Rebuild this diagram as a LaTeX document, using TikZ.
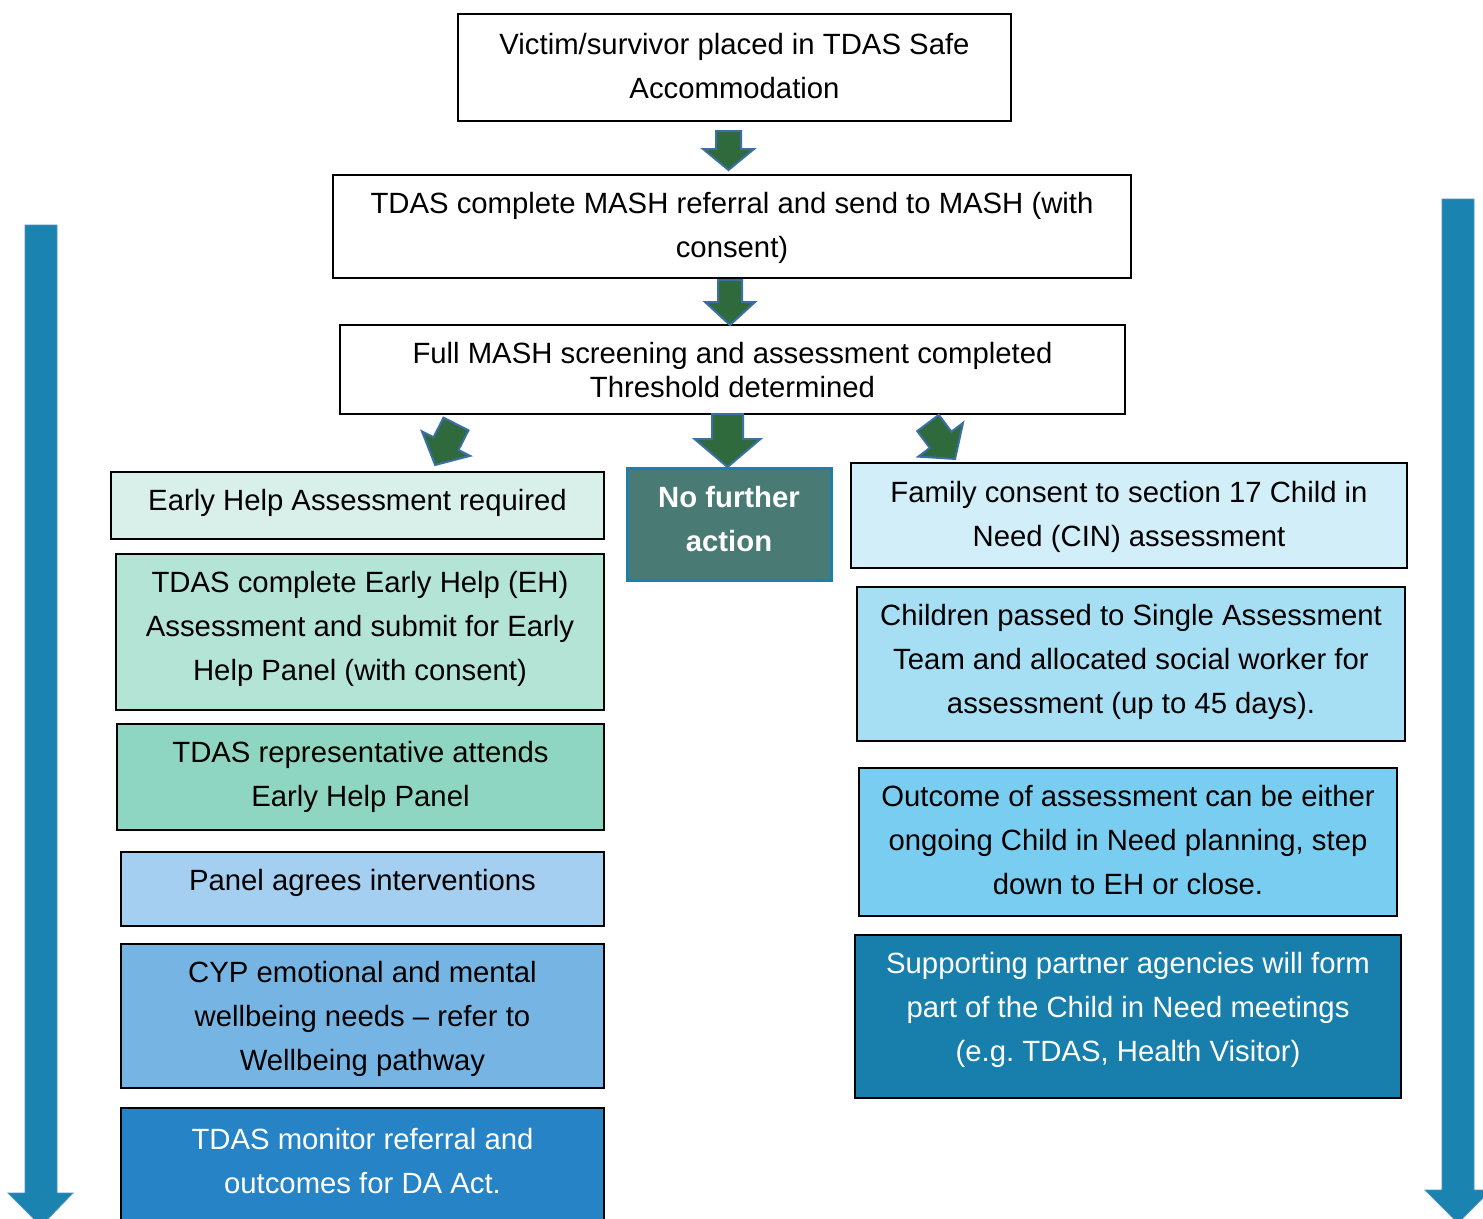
\documentclass[tikz,border=0pt]{standalone}
\usepackage{fontspec}
\setmainfont{Liberation Sans}
\frenchspacing
\definecolor{arrgreen}{HTML}{2E6A3C}
\definecolor{arrblue}{HTML}{3B6FA6}
\definecolor{sideblue}{HTML}{1A83AF}
\definecolor{sideedge}{HTML}{4F8FBF}
\definecolor{cA}{HTML}{D9F0EA}
\definecolor{cB}{HTML}{B4E4D5}
\definecolor{cC}{HTML}{8ED6C2}
\definecolor{cD}{HTML}{A4CFF0}
\definecolor{cE}{HTML}{76B5E3}
\definecolor{cF}{HTML}{2683C6}
\definecolor{cN}{HTML}{497A73}
\definecolor{cNb}{HTML}{1D80AC}
\definecolor{cR1}{HTML}{D2EEF8}
\definecolor{cR2}{HTML}{A6DEF3}
\definecolor{cR3}{HTML}{79CDF0}
\definecolor{cR4}{HTML}{187FAD}
\newcommand{\garr}[7]{%
  \draw[garrow, shift={(#1,#2)}, rotate=#3] (-#4,0) -- (#4,0) -- (#4,#6) -- (#5,#6) -- (0,#7) -- (-#5,#6) -- (-#4,#6) -- cycle;}
\begin{document}
\begin{tikzpicture}[x=1pt,y=-1pt,
  box/.style={rectangle, draw=black, line width=2pt, inner sep=0pt},
  txt/.style={align=center, inner sep=0pt, font=\fontsize{29.3}{44}\selectfont},
  garrow/.style={fill=arrgreen, draw=arrblue, line width=2pt, line join=miter},
  sidearrow/.style={fill=sideblue, draw=sideedge, line width=0.8pt}]
\useasboundingbox (0,0) rectangle (1483,1218);
\fill[white] (0,0) rectangle (1483,1218);

% side arrows
\draw[sidearrow] (25,225) -- (57,225) -- (57,1193) -- (73,1193) -- (41,1226) -- (8,1193) -- (25,1193) -- cycle;
\draw[sidearrow] (1442,199) -- (1474,199) -- (1474,1190) -- (1491,1190) -- (1458,1223) -- (1425,1190) -- (1442,1190) -- cycle;

% top boxes
\node[box, fill=white, minimum width=553, minimum height=107] (b1) at (734.5,67.5) {};
\node[txt] (b1t) at (734.5,66) {Victim/survivor placed in TDAS Safe\\Accommodation};
\node[box, fill=white, minimum width=798, minimum height=103] (b2) at (732,226.5) {};
\node[txt] (b2t) at (732,228) {TDAS complete MASH referral and send to MASH (with\\consent)};
\node[box, fill=white, minimum width=785, minimum height=89] (b3) at (732.5,369.5) {};
\node[txt, font=\fontsize{29.3}{34}\selectfont] (b3t) at (732.5,370.5) {Full MASH screening and assessment completed\\Threshold determined};

% left column
\node[box, fill=cA, minimum width=493, minimum height=67] (l1) at (357.5,505.5) {};
\node[txt] (l1t) at (357.5,503) {Early Help Assessment required};
\node[box, fill=cB, minimum width=488, minimum height=156] (l2) at (360,632) {};
\node[txt] (l2t) at (360,629) {TDAS complete Early Help (EH)\\Assessment and submit for Early\\Help Panel (with consent)};
\node[box, fill=cC, minimum width=487, minimum height=106] (l3) at (360.5,777) {};
\node[txt] (l3t) at (360.5,777) {TDAS representative attends\\Early Help Panel};
\node[box, fill=cD, minimum width=483, minimum height=74] (l4) at (362.5,889) {};
\node[txt] (l4t) at (362.5,883) {Panel agrees interventions};
\node[box, fill=cE, minimum width=483, minimum height=144] (l5) at (362.5,1016) {};
\node[txt] (l5t) at (362.5,1019) {CYP emotional and mental\\wellbeing needs – refer to\\Wellbeing pathway};
\node[box, fill=cF, minimum width=483, minimum height=130] (l6) at (362.5,1173) {};
\node[txt, text=white] (l6t) at (362.5,1161) {TDAS monitor referral and\\outcomes for DA Act.};

% middle
\node[box, fill=cN, draw=cNb, line width=3pt, minimum width=204, minimum height=112] (nfa) at (729,524) {};
\node[txt, text=white, font=\fontsize{29.3}{44}\selectfont\bfseries] (nfat) at (729,519) {No further\\action};

% right column
\node[box, fill=cR1, minimum width=556, minimum height=105] (r1) at (1129,515.5) {};
\node[txt] (r1t) at (1129,517) {Family consent to section 17 Child in\\Need (CIN) assessment};
\node[box, fill=cR2, minimum width=548, minimum height=154] (r2) at (1131,664) {};
\node[txt] (r2t) at (1131,662) {Children passed to Single Assessment\\Team and allocated social worker for\\assessment (up to 45 days).};
\node[box, fill=cR3, minimum width=538, minimum height=148] (r3) at (1128,842) {};
\node[txt] (r3t) at (1128,840) {Outcome of assessment can be either\\ongoing Child in Need planning, step\\down to EH or close.};
\node[box, fill=cR4, minimum width=546, minimum height=163] (r4) at (1128,1016.5) {};
\node[txt, text=white] (r4t) at (1128,1010) {Supporting partner agencies will form\\part of the Child in Need meetings\\(e.g. TDAS, Health Visitor)};

% green block arrows
\garr{728.5}{131}{0}{12.5}{25.5}{18}{39}
\garr{730}{280}{0}{12}{25}{22}{45}
\garr{727.5}{414}{0}{15.5}{33}{25}{53}
\garr{456}{424}{-27}{14}{27}{22}{46}
\garr{928}{423}{37}{13.5}{28}{21}{45}
\end{tikzpicture}
\end{document}
